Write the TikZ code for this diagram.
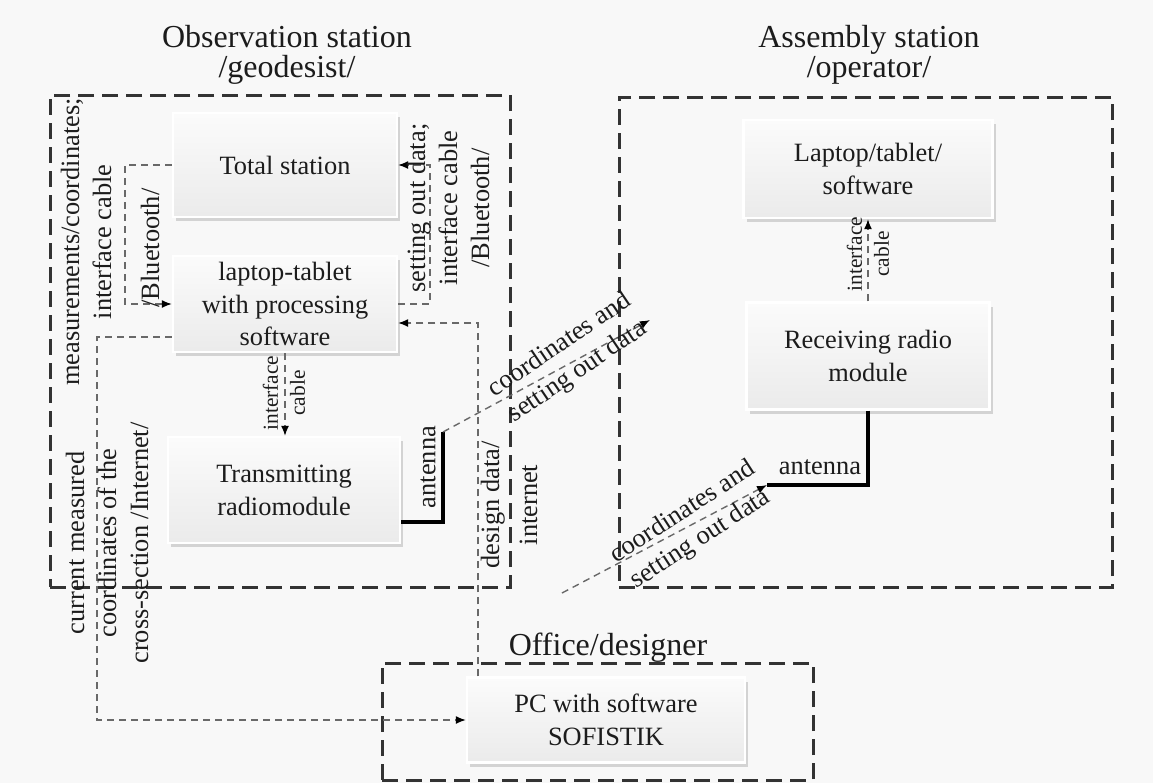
\documentclass[tikz,border=0pt]{standalone}
\usepackage{fontspec}
\setmainfont{Liberation Serif}
\usetikzlibrary{shadows,arrows.meta,calc}
\definecolor{bg}{RGB}{248,248,248}
\definecolor{txt}{RGB}{28,28,28}
\definecolor{conn}{RGB}{105,105,105}
\begin{document}
\begin{tikzpicture}[x=0.5pt,y=-0.5pt,
  every node/.style={text=txt},
  blk/.style={draw=white, line width=1.2pt, top color=white!97!gray, bottom color=gray!16,
    drop shadow={shadow xshift=1.5pt,shadow yshift=-2pt,opacity=0.3},
    align=center, font=\fontsize{13.2}{16.4}\selectfont, inner sep=0pt},
  station/.style={draw=black!80, line width=1.5pt, dash pattern=on 8pt off 4pt, minimum width=0pt, inner sep=0pt},
  title/.style={align=center, font=\fontsize{16}{15}\selectfont},
  lbl/.style={align=center, font=\fontsize{13.2}{16}\selectfont, inner sep=0pt},
  small/.style={align=center, font=\fontsize{10.7}{13.5}\selectfont, inner sep=0pt},
  link/.style={draw=conn, line width=0.7pt, dash pattern=on 3.5pt off 2.5pt},
  arr/.style={-{Latex[length=5pt,width=4pt,color=black]}},
  ant/.style={draw=black, line width=1.6pt},
]
\useasboundingbox (0,0) rectangle (1153,783);
\fill[bg] (0,0) rectangle (1153,783);

% station frames
\node[station, minimum width=230pt, minimum height=246pt] (obs) at (280,341) {};
\node[station, minimum width=246.5pt, minimum height=245pt] (asm) at (865.5,342) {};
\node[station, minimum width=215.5pt, minimum height=58.5pt] (off) at (597.5,721.5) {};

% titles
\node[title] (tobs) at (287,55) {Observation station\\/geodesist/};
\node[title] (tasm) at (869,55) {Assembly station\\/operator/};
\node[title] (toff) at (608,648) {Office/designer};

% blocks
\node[blk, minimum width=112pt, minimum height=52pt] (ts) at (285,165) {Total station};
\node[blk, minimum width=112pt, minimum height=48pt] (lt) at (285,304) {laptop-tablet\\with processing\\software};
\node[blk, minimum width=116pt, minimum height=53pt] (tr) at (284,490) {Transmitting\\radiomodule};
\node[blk, minimum width=124.5pt, minimum height=49pt] (lts) at (868,169) {Laptop/tablet/\\software};
\node[blk, minimum width=121.5pt, minimum height=53.5pt] (rr) at (868,356) {Receiving radio\\module};
\node[blk, minimum width=139pt, minimum height=42.5pt] (pc) at (606,720) {PC with software\\SOFISTIK};

% coordinates for bends
\coordinate (cl) at (125,0);
\coordinate (cr) at (430,0);
\coordinate (dd) at (478,323);
\coordinate (cb) at (97,337);
\coordinate (a1b) at (443,522);
\coordinate (a1) at (443,432);
\coordinate (a1t) at (650,320);
\coordinate (a2) at (767,485);
\coordinate (a2e) at (562,593);

% connectors
\draw[link,arr] (ts.west) -- (ts.west -| cl) -- (lt.west -| cl) -- (lt.west);
\draw[link,arr] (lt.east) -- (lt.east -| cr) -- (ts.east -| cr) -- (ts.east);
\draw[link,arr] (lt.south) -- (lt.south |- tr.north);
\draw[link,arr] (pc.north -| dd) -- (dd) -- (dd -| lt.east);
\draw[link,arr] (cb -| lt.west) -- (cb) -- (cb |- pc.west) -- (pc.west);
\draw[link,arr] (rr.north) -- (lts.south);
\draw[ant] (a1b -| tr.east) -- (a1b) -- (a1);
\draw[link,arr] (a1) -- (a1t);
\draw[ant] (rr.south) -- (rr.south |- a2) -- (a2);
\draw[link,arr] (a2e) -- (a2);

% labels
\node[lbl, rotate=90] (l1) at (86,242) {measurements/coordinates;\\interface cable};
\node[lbl, rotate=90] (l2) at (150,248) {/Bluetooth/};
\node[lbl, rotate=90] (l3) at (448,208) {setting out data;\\interface cable\\/Bluetooth/};
\node[small, rotate=90] (l4) at (284,393) {interface\\cable};
\node[small, rotate=90] (l5) at (868,254) {interface\\cable};
\node[lbl, rotate=90] (l6) at (428,467) {antenna};
\node[lbl] (l7) at (820,467) {antenna};
\node[lbl, rotate=90, font=\fontsize{13.2}{19}\selectfont] (l8) at (509,505) {design data/\\internet};
\node[lbl, rotate=90] (l9) at (107,543) {current measured\\coordinates of the\\cross-section /Internet/};
\node[lbl, rotate=34] (l10) at (569,359) {coordinates and\\setting out data};
\node[lbl, rotate=33] (l11) at (692,526) {coordinates and\\setting out data};
\end{tikzpicture}
\end{document}
